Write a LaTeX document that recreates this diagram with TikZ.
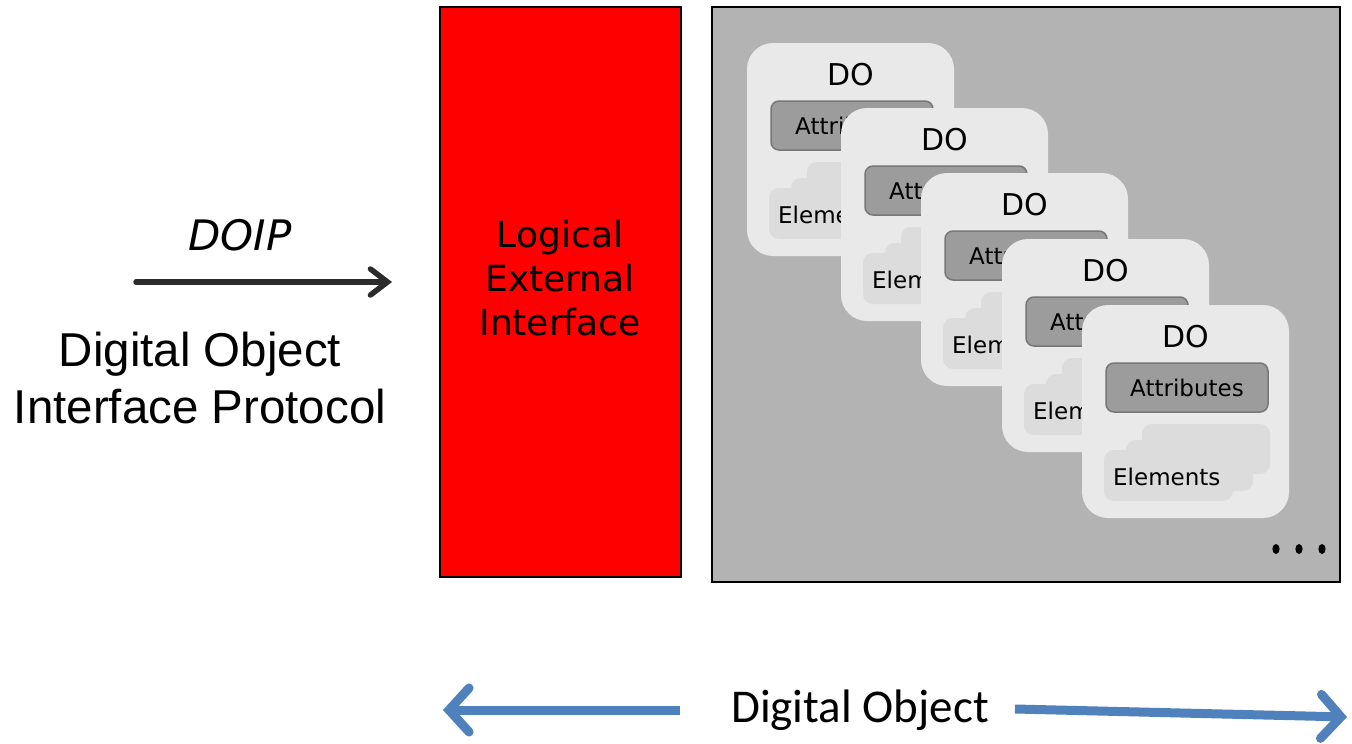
\documentclass[tikz,border=0pt]{standalone}
\usepackage{fontspec}
\newfontfamily\dvs{DejaVu Sans}
\newfontfamily\arialf{Liberation Sans}
\newfontfamily\calib{Carlito}
\usetikzlibrary{arrows.meta}
\definecolor{redbox}{HTML}{FF0000}
\definecolor{storegray}{HTML}{B3B3B3}
\definecolor{cardfill}{HTML}{E9E9E9}
\definecolor{attrfill}{HTML}{9C9C9C}
\definecolor{attrline}{HTML}{777777}
\definecolor{elemfill}{HTML}{DCDCDC}
\definecolor{officeblue}{HTML}{4F81BD}
\definecolor{arrowdark}{HTML}{2B2B2B}
\tikzset{
  cardbox/.style={fill=cardfill, draw=none, rounded corners=26pt},
  attrbox/.style={fill=attrfill, draw=attrline, line width=1.5pt, rounded corners=8pt},
  elembox/.style={fill=elemfill, draw=none, rounded corners=10pt},
  dolabel/.style={font=\dvs\fontsize{30}{34}\selectfont, inner sep=0pt},
  smalllabel/.style={font=\dvs\fontsize{23}{27}\selectfont, inner sep=0pt},
  blueflow/.style={draw=officeblue, line width=9pt,
    -{Straight Barb[length=20pt, width=44pt, line cap=round]}},
}
\newcommand\drawdocard[3]{%
  \begin{scope}[shift={(#1,#2)}]
    \path[cardbox] (0,0) rectangle (207,213);
    \node[dolabel] (do#3) at (104,32) {DO};
    \path[attrbox] (24,58) rectangle (186,107);
    \node[smalllabel] (attr#3) at (105,83) {Attributes};
    \path[elembox] (60,119) rectangle (188,169);
    \path[elembox] (44,135) rectangle (171,186);
    \path[elembox] (22,145) rectangle (151,196);
    \node[smalllabel, anchor=west] (elem#3) at (31,172) {Elements};
  \end{scope}}
\begin{document}
\begin{tikzpicture}[x=1pt, y=-1pt]
  \useasboundingbox (0,0) rectangle (1352,744);
  \fill[white] (0,0) rectangle (1352,744);

  % interface block
  \draw[fill=redbox, line width=2pt] (440,7) rectangle (681,577);
  \node[font=\dvs\fontsize{36}{44}\selectfont, align=center, inner sep=0pt]
    (lei) at (560,278) {Logical\\External\\Interface};

  % object store
  \draw[fill=storegray, line width=2pt] (712,7) rectangle (1340,582);
  \drawdocard{747}{43}{1}
  \drawdocard{841}{108}{2}
  \drawdocard{921}{173}{3}
  \drawdocard{1002}{239}{4}
  \drawdocard{1082}{305}{5}
  \foreach \dx [count=\i] in {1276,1299,1322}
    \fill (\dx,549) ellipse [x radius=3.6pt, y radius=5pt] coordinate (dot\i);

  % protocol arrow and labels
  \node[font=\dvs\itshape\fontsize{42}{48}\selectfont, inner sep=0pt] (doip) at (240,235) {DOIP};
  \coordinate (pstart) at (136,282);
  \coordinate (pend) at (392,282);
  \draw[arrowdark, line width=5.5pt, line cap=round,
        -{Straight Barb[length=17pt, width=26pt, line cap=round]}] (pstart) -- (pend);
  \node[font=\arialf\fontsize{47.5}{57}\selectfont, align=center, inner sep=0pt]
    (proto) at (200,378) {Digital Object\\Interface Protocol};

  % extent of the digital object
  \node[font=\calib\fontsize{47}{52}\selectfont, inner sep=0pt] (dobj) at (860,710) {Digital Object};
  \coordinate (lstart) at (680,710);
  \coordinate (lend) at (443,710);
  \coordinate (rstart) at (1015,709);
  \coordinate (rend) at (1347,717);
  \draw[blueflow] (lstart) -- (lend);
  \draw[blueflow] (rstart) -- (rend);
\end{tikzpicture}
\end{document}
